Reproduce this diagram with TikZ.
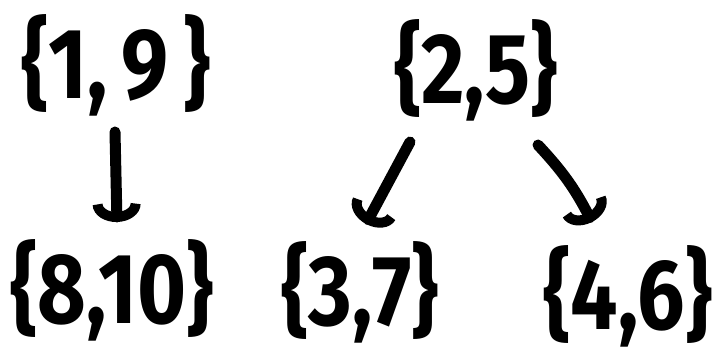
\documentclass[tikz,border=0pt]{standalone}
\usepackage{fontspec}
\setmainfont{Fira Sans}
\usetikzlibrary{arrows.meta}
\begin{document}
\begin{tikzpicture}[x=1pt,y=-1pt,
  setnode/.style={inner sep=0pt,xscale=0.84,font=\fontsize{100}{100}\selectfont\bfseries},
  conn/.style={line width=11pt,line cap=round,-{Arc Barb[length=18pt,width=48pt,line width=10pt]}}]
\useasboundingbox (0,0) rectangle (718,363);
\node[setnode] (a) at (116,65) {\{1,\,9\,\}};
\node[setnode] (b) at (476,70) {\{2,5\}};
\node[setnode] (c) at (112,290) {\{8,10\}};
\node[setnode] (d) at (360,292) {\{3,7\}};
\node[setnode] (e) at (628,296) {\{4,6\}};
\coordinate (a1) at (115,132);
\coordinate (a2) at (117,222);
\coordinate (b1) at (410,142);
\coordinate (b2) at (366,224);
\coordinate (b3) at (538,145);
\coordinate (b4) at (592,222);
\draw[conn] (a1) -- (a2);
\draw[conn] (b1) -- (b2);
\draw[conn] (b3) to[bend left=8] (b4);
\end{tikzpicture}
\end{document}
